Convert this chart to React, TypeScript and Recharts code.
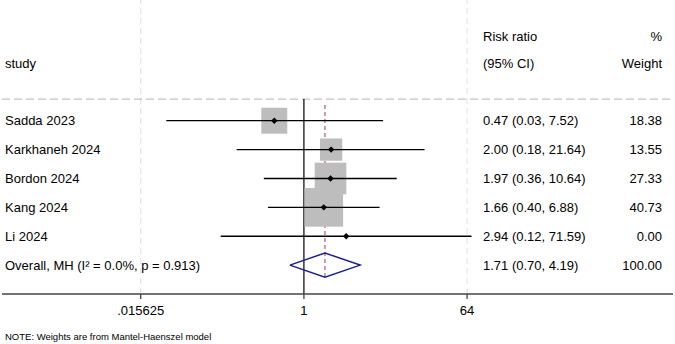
import { ScatterChart, Scatter, XAxis, YAxis, ReferenceLine } from "recharts";

const studies = ["Sadda 2023", "Karkhaneh 2024", "Bordon 2024", "Kang 2024", "Li 2024"];
const riskRatio = [0.47, 2.0, 1.97, 1.66, 2.94];
const ciLow = [0.03, 0.18, 0.36, 0.4, 0.12];
const ciHigh = [7.52, 21.64, 10.64, 6.88, 71.59];
const weights = [18.38, 13.55, 27.33, 40.73, 0.0];

const overallLabel = "Overall, MH (I\u00b2 = 0.0%, p = 0.913)";
const overallRR = 1.71;
const overallLow = 0.7;
const overallHigh = 4.19;
const overallWeight = 100.0;

const xTicks = [0.015625, 1, 64];

const FONT = '"Liberation Sans", Arial, Helvetica, sans-serif';
const W = 675;
const H = 344;
// log scale: 1 at x=304, 27.2px per doubling, plot spans x=2..673
const AXIS_LO = Math.pow(2, -11.1);
const AXIS_HI = Math.pow(2, 13.57);
const BOX_K = 6.05;
const DIAMOND_H = 0.42;
const RR_COL_X = 483;
const WT_COL_X = 662;

const overallRow = studies.length;

const studyRows = studies.map((s, i) => ({
  x: riskRatio[i],
  y: i,
  label: s,
  lo: ciLow[i],
  hi: ciHigh[i],
  w: weights[i],
}));

const textRows = [
  ...studyRows,
  { x: overallRR, y: overallRow, label: overallLabel, lo: overallLow, hi: overallHigh, w: overallWeight },
];

const diamond = [
  { x: overallLow, y: overallRow },
  { x: overallRR, y: overallRow - DIAMOND_H },
  { x: overallHigh, y: overallRow },
  { x: overallRR, y: overallRow + DIAMOND_H },
  { x: overallLow, y: overallRow },
];

const fmt = (v: number) => v.toFixed(2);
const tickFmt = (v: number) => String(v).replace(/^0\./, ".");

const Empty = () => <g />;

const BoxShape = (p: any) => {
  const s = Math.sqrt(p.payload.w) * BOX_K;
  if (!s) return <g />;
  return <rect x={p.cx - s / 2} y={p.cy - s / 2} width={s} height={s} fill="#bdbdbd" />;
};

const MarkerShape = (p: any) => {
  const r = 3.2;
  return (
    <polygon
      points={`${p.cx - r},${p.cy} ${p.cx},${p.cy - r} ${p.cx + r},${p.cy} ${p.cx},${p.cy + r}`}
      fill="#000"
    />
  );
};

const TextShape = (p: any) => {
  const d = p.payload;
  return (
    <g fontFamily={FONT} fontSize={13} fill="#000">
      <text x={5} y={p.cy} dominantBaseline="central">
        {d.label}
      </text>
      <text x={RR_COL_X} y={p.cy} dominantBaseline="central">
        {`${fmt(d.x)} (${fmt(d.lo)}, ${fmt(d.hi)})`}
      </text>
      <text x={WT_COL_X} y={p.cy} dominantBaseline="central" textAnchor="end">
        {fmt(d.w)}
      </text>
    </g>
  );
};

export default function App() {
  return (
    <div style={{ position: "absolute", left: 0, top: 0, width: W, height: H, background: "#fff" }}>
      <ScatterChart width={W} height={H} margin={{ top: 0, right: 2, bottom: 0, left: 2 }}>
        <XAxis
          type="number"
          dataKey="x"
          scale="log"
          domain={[AXIS_LO, AXIS_HI]}
          allowDataOverflow
          ticks={xTicks}
          tickFormatter={tickFmt}
          height={50}
          tickSize={5}
          tickMargin={7}
          axisLine={{ stroke: "#444", strokeWidth: 1.3 }}
          tickLine={{ stroke: "#444", strokeWidth: 1.3 }}
          tick={{ fontSize: 13, fill: "#000", fontFamily: FONT }}
        />
        <YAxis type="number" dataKey="y" domain={[-4.18, 6.0]} reversed hide width={0} allowDataOverflow />

        {[xTicks[0], xTicks[2]].map((t) => (
          <ReferenceLine key={t} x={t} stroke="#e0e0e0" strokeDasharray="6 4" ifOverflow="visible" />
        ))}
        <ReferenceLine y={-0.75} stroke="#c4c4c4" strokeDasharray="8 4" strokeWidth={1.2} ifOverflow="visible" />

        <Scatter data={studyRows} shape={BoxShape} isAnimationActive={false} />

        {studyRows.map((r) => (
          <Scatter
            key={r.label}
            data={[
              { x: r.lo, y: r.y },
              { x: r.hi, y: r.y },
            ]}
            shape={Empty}
            line={{ stroke: "#000", strokeWidth: 1.3 }}
            isAnimationActive={false}
          />
        ))}

        <ReferenceLine
          segment={[
            { x: 1, y: -0.75 },
            { x: 1, y: 6.0 },
          ]}
          stroke="#000"
          strokeWidth={1.2}
          ifOverflow="visible"
        />
        <ReferenceLine
          segment={[
            { x: overallRR, y: -0.54 },
            { x: overallRR, y: 5.45 },
          ]}
          stroke="#a8505a"
          strokeDasharray="4 3"
          strokeWidth={1.1}
          ifOverflow="visible"
        />

        <Scatter
          data={diamond}
          shape={Empty}
          line={{ stroke: "#1c1f8a", strokeWidth: 1.5 }}
          isAnimationActive={false}
        />

        <Scatter data={studyRows} shape={MarkerShape} isAnimationActive={false} />
        <Scatter data={textRows} shape={TextShape} isAnimationActive={false} />
      </ScatterChart>

      <svg
        width={W}
        height={H}
        style={{ position: "absolute", left: 0, top: 0, pointerEvents: "none" }}
        fontFamily={FONT}
        fontSize={13}
      >
        <text x={5} y={63} dominantBaseline="central">study</text>
        <text x={RR_COL_X} y={36} dominantBaseline="central">Risk ratio</text>
        <text x={RR_COL_X} y={63} dominantBaseline="central">(95% CI)</text>
        <text x={WT_COL_X} y={36} dominantBaseline="central" textAnchor="end">%</text>
        <text x={WT_COL_X} y={63} dominantBaseline="central" textAnchor="end">Weight</text>
        <text x={5} y={336} dominantBaseline="central" fontSize={9.5}>
          NOTE: Weights are from Mantel-Haenszel model
        </text>
      </svg>
    </div>
  );
}
